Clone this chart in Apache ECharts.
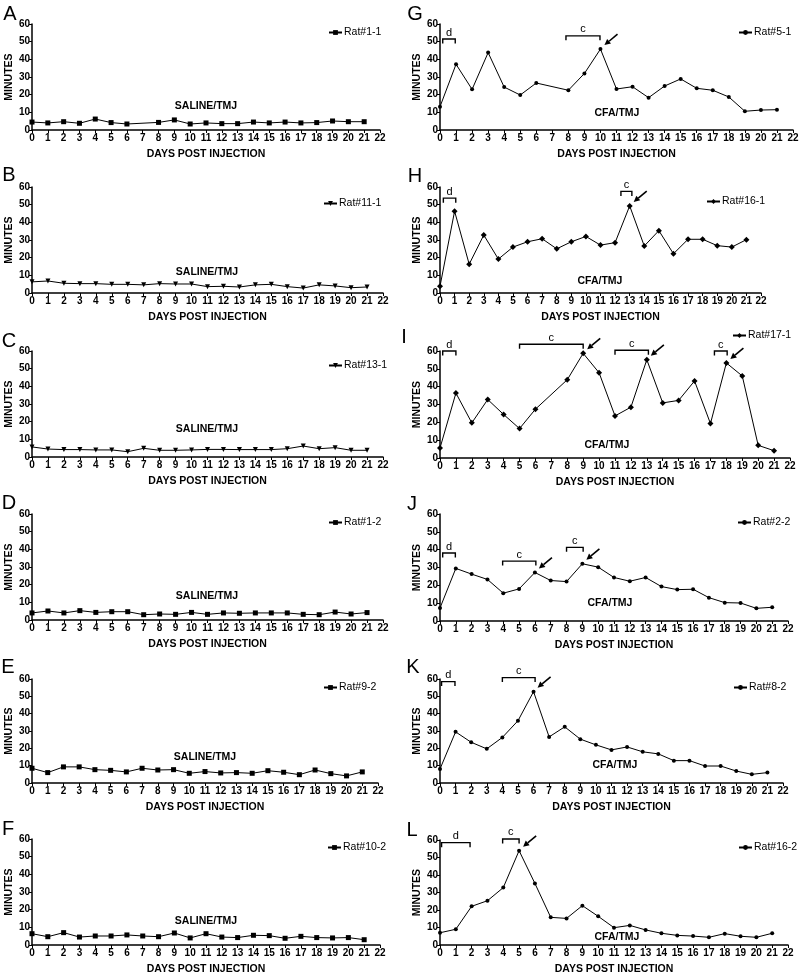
<!DOCTYPE html>
<html><head><meta charset="utf-8">
<script src="https://cdn.jsdelivr.net/npm/echarts@6/dist/echarts.min.js"></script>
<style>html,body{margin:0;padding:0;background:#fff}#c{width:800px;height:978px}</style>
</head><body><div id="c"></div>
<script>
// ---------------- DATA ----------------
const days = [0,1,2,3,4,5,6,7,8,9,10,11,12,13,14,15,16,17,18,19,20,21];
const yTicks = [0,10,20,30,40,50,60];
const panelLetters = ['A','B','C','D','E','F','G','H','I','J','K','L'];
const ratNames = ['Rat#1-1','Rat#11-1','Rat#13-1','Rat#1-2','Rat#9-2','Rat#10-2',
                  'Rat#5-1','Rat#16-1','Rat#17-1','Rat#2-2','Rat#8-2','Rat#16-2'];
const treatments = ['SALINE/TMJ','SALINE/TMJ','SALINE/TMJ','SALINE/TMJ','SALINE/TMJ','SALINE/TMJ',
                    'CFA/TMJ','CFA/TMJ','CFA/TMJ','CFA/TMJ','CFA/TMJ','CFA/TMJ'];
const xAxisTitle = 'DAYS POST INJECTION';
const yAxisTitle = 'MINUTES';

const ratA = [4.5,4.0,4.7,3.8,6.2,4.2,3.4,null,4.3,5.7,3.4,4.0,3.6,3.6,4.5,4.0,4.5,4.0,4.2,5.1,4.7,4.7];
const ratB = [6.3,6.8,5.5,5.3,5.3,4.9,4.9,4.6,5.3,5.1,5.1,3.6,3.8,3.4,4.6,4.9,3.6,2.8,4.6,4.0,3.0,3.4];
const ratC = [5.7,4.5,4.2,4.2,4.0,4.0,3.0,4.9,3.8,3.8,4.0,4.3,4.3,4.2,4.2,4.2,4.7,6.2,4.7,5.3,3.8,3.8];
const ratD = [4.0,5.1,4.0,5.3,4.3,4.7,4.7,3.0,3.4,3.2,4.3,3.2,4.0,3.8,4.0,4.0,4.0,3.2,3.0,4.5,3.4,4.2];
const ratE = [8.5,6.0,9.3,9.3,7.7,7.3,6.4,8.5,7.5,7.7,5.6,6.6,5.8,6.0,5.6,7.1,6.2,4.8,7.5,5.4,4.1,6.4];
const ratF = [6.4,4.7,7.0,4.5,5.1,5.1,5.7,5.1,4.7,6.8,4.0,6.4,4.5,4.2,5.5,5.3,3.8,4.9,4.2,4.0,4.2,3.0];
const ratG = [13.2,37.2,23.0,43.8,24.3,19.8,26.6,null,22.5,32.0,45.8,23.2,24.5,18.3,24.9,28.9,23.6,22.5,18.7,10.6,11.3,11.5];
const ratH = [3.8,46.3,16.3,32.8,19.2,26.0,29.0,30.7,25.0,29.0,32.0,27.1,28.5,49.3,26.6,35.3,22.2,30.4,30.4,26.8,26.0,30.2];
const ratI = [5.6,36.4,19.7,32.8,24.4,16.5,27.4,null,43.9,58.7,47.8,23.6,28.5,55.1,30.9,32.3,43.2,19.3,53.3,46.0,7.1,4.1];
const ratJ = [7.3,29.5,26.3,23.3,15.6,18.0,27.2,22.7,22.1,32.1,30.2,24.4,22.3,24.4,19.3,17.6,17.8,13.1,10.3,10.1,7.1,7.7];
const ratK = [8.1,29.5,23.5,19.7,26.3,35.9,52.7,26.6,32.4,25.3,22.0,19.1,20.8,18.0,16.8,12.9,12.9,9.8,9.8,6.9,5.0,6.0];
const ratL = [7.0,9.0,22.1,25.3,32.8,53.9,35.2,15.8,15.2,22.5,16.4,9.9,11.2,8.6,6.7,5.5,5.1,4.4,6.5,5.0,4.4,6.7];
const ratValues = [ratA,ratB,ratC,ratD,ratE,ratF,ratG,ratH,ratI,ratJ,ratK,ratL];

// bracket annotations in data units: [fromDay, toDay, minutes, label]
const bracketsG = [[0.17,0.95,51.5,'d'],[7.85,9.97,53.3,'c']];
const bracketsH = [[0.23,1.08,53.7,'d'],[12.4,13.15,57.5,'c']];
const bracketsI = [[0.17,1.0,60.0,'d'],[5.0,9.0,63.8,'c'],[11.0,13.1,60.4,'c'],[17.25,18.05,60.0,'c']];
const bracketsJ = [[0.17,0.97,38.1,'d'],[3.96,6.06,33.6,'c'],[8.0,9.05,41.3,'c']];
const bracketsK = [[0.1,0.96,58.5,'d'],[4.0,6.1,60.8,'c']];
const bracketsL = [[0.1,1.9,58.5,'d'],[3.96,5.0,60.6,'c']];
const bracketSets = [[],[],[],[],[],[],bracketsG,bracketsH,bracketsI,bracketsJ,bracketsK,bracketsL];
// arrow targets [day, minutes]
const arrowsG = [[10,45.8]];
const arrowsH = [[13,49.3]];
const arrowsI = [[9,58.7],[13,55.1],[18,53.3]];
const arrowsJ = [[6,27.2],[9,32.1]];
const arrowsK = [[6,52.7]];
const arrowsL = [[5,53.9]];
const arrowSets = [[],[],[],[],[],[],arrowsG,arrowsH,arrowsI,arrowsJ,arrowsK,arrowsL];

// ---------------- LAYOUT / STYLE ----------------
const FONT = '"Liberation Sans", Arial, Helvetica, sans-serif';
// grid boxes [left, top, right, bottom] in px
const gridBoxes = [
  [32,24,380,130],[32,187,383,293],[32,351,383,457],[32,514,383,620],[32,679,378,783],[32,839,380,945],
  [440,24,793,130],[440,187,761,293],[440,351,790,458],[440,514,788,621],[440,679,783,783],[440,840,788,945]
];
const legendPos = [
  [327,33],[322,204],[327,366],[327,523],[322,688],[326,848],
  [737,33],[705,202],[731,336],[736,523],[732,688],[737,848]
];
const letterPos = [
  [10,14],[9,175],[9,341],[9,503],[8,667],[8,829],
  [415,14],[415,176],[404,337],[412,504],[413,667],[412,830]
];
const treatPos = [
  [206,106],[207,272],[207,429],[207,596],[205,757],[206,921],
  [617,113],[600,281],[607,445],[610,603],[615,765],[617,937]
];
const symbols = ['rect','triangle','triangle','rect','rect','rect','circle','diamond','diamond','circle','circle','circle'];
const symbolSizes = [5,5,5,5,5,5,4,6,6,4,4,4];
const symbolRot = [0,180,180,0,0,0,0,0,0,0,0,0];

const grids = [], xAxes = [], yAxes = [], series = [], legends = [], graphics = [];

function makeBracketRender(list){
  return function(params, api){
    const b = list[params.dataIndex];
    const p1 = api.coord([api.value(0), api.value(2)]);
    const p2 = api.coord([api.value(1), api.value(2)]);
    return {type:'group', children:[
      {type:'polyline', shape:{points:[[p1[0],p1[1]+4.5],[p1[0],p1[1]],[p2[0],p2[1]],[p2[0],p2[1]+4.5]]},
       style:{stroke:'#000', lineWidth:1.4, fill:null}},
      {type:'text', style:{text:b[3], x:(p1[0]+p2[0])/2, y:p1[1]-1, align:'center', verticalAlign:'bottom',
        textAlign:'center', textVerticalAlign:'bottom', font:'11px '+FONT, fill:'#000'}}
    ]};
  };
}
function arrowRender(params, api){
  const p = api.coord([api.value(0), api.value(1)]);
  const tip = [p[0]+4, p[1]-4];
  const ux = 12/15.62, uy = -10/15.62;
  const tail = [tip[0]+17*ux, tip[1]+17*uy];
  const base = [tip[0]+6*ux, tip[1]+6*uy];
  const nx = -uy, ny = ux;
  return {type:'group', children:[
    {type:'line', shape:{x1:tail[0], y1:tail[1], x2:base[0], y2:base[1]}, style:{stroke:'#000', lineWidth:1.6}},
    {type:'polygon', shape:{points:[tip,[base[0]+3*nx, base[1]+3*ny],[base[0]-3*nx, base[1]-3*ny]]}, style:{fill:'#000'}}
  ]};
}

for (let i = 0; i < 12; i++) {
  const g = gridBoxes[i];
  grids.push({left:g[0], top:g[1], width:g[2]-g[0], height:g[3]-g[1], outerBoundsMode:'none', containLabel:false});
  xAxes.push({
    gridIndex:i, type:'value', min:days[0], max:22, interval:1,
    name:xAxisTitle, nameLocation:'middle', nameGap:19,
    nameTextStyle:{fontWeight:'bold', fontSize:10.5, color:'#000', fontFamily:FONT},
    axisLine:{show:true, onZero:false, lineStyle:{color:'#000', width:1.5}},
    axisTick:{show:true, length:3, lineStyle:{color:'#000', width:1}},
    axisLabel:{show:true, margin:3, fontSize:10, fontWeight:'bold', color:'#000', fontFamily:FONT,
      showMinLabel:true, showMaxLabel:true},
    splitLine:{show:false}
  });
  yAxes.push({
    gridIndex:i, type:'value', min:yTicks[0], max:yTicks[yTicks.length-1], interval:10,
    name:yAxisTitle, nameLocation:'middle', nameGap:16,
    nameTextStyle:{fontWeight:'bold', fontSize:10.5, color:'#000', fontFamily:FONT},
    axisLine:{show:true, onZero:false, lineStyle:{color:'#000', width:1.5}},
    axisTick:{show:true, length:3, lineStyle:{color:'#000', width:1}},
    axisLabel:{show:true, margin:2, fontSize:10, fontWeight:'bold', color:'#000', fontFamily:FONT},
    splitLine:{show:false}
  });
  series.push({
    name:ratNames[i], type:'line', xAxisIndex:i, yAxisIndex:i,
    data: days.map((d,k)=>[d, ratValues[i][k]]),
    connectNulls:true, symbol:symbols[i], symbolSize:symbolSizes[i], symbolRotate:symbolRot[i],
    showAllSymbol:true,
    lineStyle:{color:'#000', width:1}, itemStyle:{color:'#000'},
    emphasis:{disabled:true}, animation:false, z:3
  });
  if (bracketSets[i].length) {
    series.push({type:'custom', xAxisIndex:i, yAxisIndex:i, clip:false, animation:false, silent:true,
      data: bracketSets[i].map(b=>[b[0],b[1],b[2]]), renderItem: makeBracketRender(bracketSets[i]), z:4});
    series.push({type:'custom', xAxisIndex:i, yAxisIndex:i, clip:false, animation:false, silent:true,
      data: arrowSets[i], renderItem: arrowRender, z:4});
  }
  legends.push({
    left:legendPos[i][0]+1, top:legendPos[i][1]-6, data:[ratNames[i]], orient:'horizontal',
    itemWidth:13, itemHeight:6, padding:0, selectedMode:false,
    textStyle:{fontSize:10.5, color:'#000', fontFamily:FONT, padding:[0,0,0,-3]}
  });
  graphics.push({type:'text', x:letterPos[i][0], y:letterPos[i][1],
    style:{text:panelLetters[i], align:'center', verticalAlign:'middle', textAlign:'center', textVerticalAlign:'middle',
      font:'20px '+FONT, fill:'#000'}});
  graphics.push({type:'text', x:treatPos[i][0], y:treatPos[i][1],
    style:{text:treatments[i], align:'center', verticalAlign:'middle', textAlign:'center', textVerticalAlign:'middle',
      font:'bold 10.5px '+FONT, fill:'#000'}});
}

const chart = echarts.init(document.getElementById('c'), null, {renderer:'canvas'});
chart.setOption({
  backgroundColor:'#fff', animation:false,
  grid:grids, xAxis:xAxes, yAxis:yAxes, series:series, legend:legends, graphic:graphics
});
</script></body></html>
